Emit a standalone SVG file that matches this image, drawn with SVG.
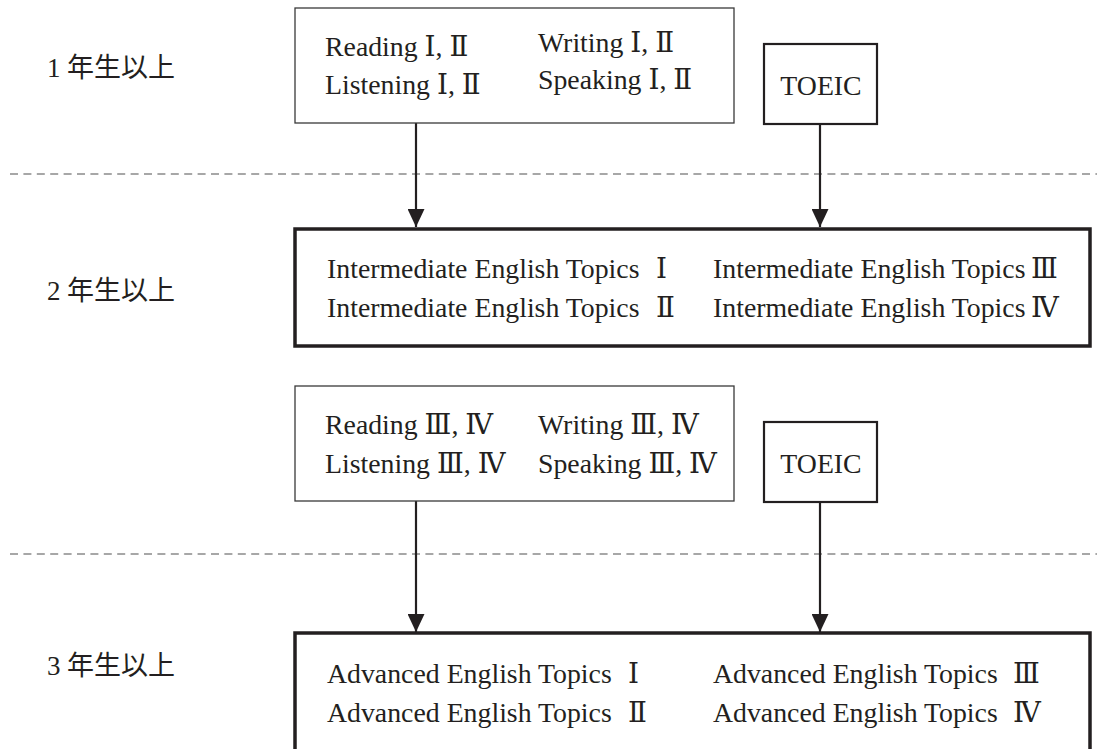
<svg xmlns="http://www.w3.org/2000/svg" width="1102" height="749" viewBox="0 0 1102 749">
<defs>
<style>
.t{font-family:"Liberation Serif","DejaVu Serif","Noto Sans CJK JP",serif;font-size:27.8px;fill:#231f20}
.lab{font-family:"Liberation Serif","Noto Sans CJK JP",serif;font-size:27px;fill:#231f20}
.thin{fill:#fff;stroke:#3a3a3a;stroke-width:1.3}
.mid{fill:#fff;stroke:#231f20;stroke-width:2.2}
.thick{fill:#fff;stroke:#231f20;stroke-width:3.5}
.dash{stroke:#8a8a8a;stroke-width:1.6;stroke-dasharray:8 5.4;fill:none}
.conn{stroke:#231f20;stroke-width:2.2;fill:none}
</style>
<marker id="ah" viewBox="0 0 18 17" refX="18" refY="8.5" markerWidth="18" markerHeight="17" markerUnits="userSpaceOnUse" orient="auto">
<path d="M0,0 L18,8.5 L0,17 Z" fill="#231f20"/>
</marker>
</defs>
<rect width="1102" height="749" fill="#fff"/>
<g id="separators">
<line class="dash" x1="10" y1="174" x2="1097" y2="174"/>
<line class="dash" x1="10" y1="554" x2="1097" y2="554"/>
</g>
<g id="labels">
<text class="lab" x="47" y="77">1<tspan x="67">年生以上</tspan></text>
<text class="lab" x="47" y="300">2<tspan x="67">年生以上</tspan></text>
<text class="lab" x="47" y="675">3<tspan x="67">年生以上</tspan></text>
</g>
<g id="connectors">
<line class="conn" x1="416" y1="123" x2="416" y2="227" marker-end="url(#ah)"/>
<line class="conn" x1="820" y1="124" x2="820" y2="227" marker-end="url(#ah)"/>
<line class="conn" x1="416" y1="501" x2="416" y2="632" marker-end="url(#ah)"/>
<line class="conn" x1="820" y1="502" x2="820" y2="632" marker-end="url(#ah)"/>
</g>
<g id="basic1">
<rect class="thin" x="295" y="8" width="439" height="115"/>
<text class="t" x="325" y="56">Reading Ⅰ, Ⅱ</text>
<text class="t" x="325" y="94">Listening Ⅰ, Ⅱ</text>
<text class="t" x="538" y="52">Writing Ⅰ, Ⅱ</text>
<text class="t" x="538" y="89">Speaking Ⅰ, Ⅱ</text>
</g>
<g id="toeic1">
<rect class="mid" x="764" y="44" width="113" height="80"/>
<text class="t" x="821" y="95" text-anchor="middle">TOEIC</text>
</g>
<g id="intermediate">
<rect class="thick" x="295" y="229" width="795" height="117"/>
<text class="t" x="327" y="278">Intermediate English Topics <tspan x="656">Ⅰ</tspan></text>
<text class="t" x="327" y="317">Intermediate English Topics <tspan x="656">Ⅱ</tspan></text>
<text class="t" x="713" y="278">Intermediate English Topics <tspan x="1031">Ⅲ</tspan></text>
<text class="t" x="713" y="317">Intermediate English Topics <tspan x="1031">Ⅳ</tspan></text>
</g>
<g id="basic2">
<rect class="thin" x="295" y="386" width="439" height="115"/>
<text class="t" x="325" y="434">Reading Ⅲ, Ⅳ</text>
<text class="t" x="325" y="473">Listening Ⅲ, Ⅳ</text>
<text class="t" x="538" y="434">Writing Ⅲ, Ⅳ</text>
<text class="t" x="538" y="473">Speaking Ⅲ, Ⅳ</text>
</g>
<g id="toeic2">
<rect class="mid" x="764" y="422" width="113" height="80"/>
<text class="t" x="821" y="473" text-anchor="middle">TOEIC</text>
</g>
<g id="advanced">
<rect class="thick" x="295" y="633" width="795" height="140"/>
<text class="t" x="327" y="683">Advanced English Topics <tspan x="628">Ⅰ</tspan></text>
<text class="t" x="327" y="722">Advanced English Topics <tspan x="628">Ⅱ</tspan></text>
<text class="t" x="713" y="683">Advanced English Topics <tspan x="1013">Ⅲ</tspan></text>
<text class="t" x="713" y="722">Advanced English Topics <tspan x="1013">Ⅳ</tspan></text>
</g>
</svg>
